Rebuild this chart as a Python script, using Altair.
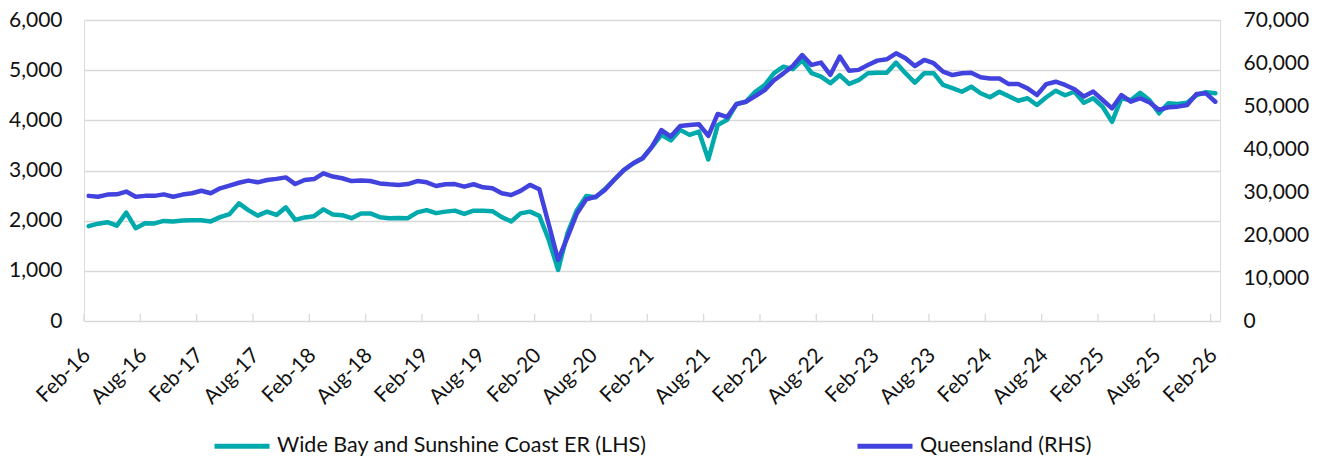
import json
import altair as alt
import pandas as pd

# ---- data (monthly, Feb-16 .. Feb-26) ----
month_labels = [d.strftime("%b-%y") for d in pd.date_range("2016-02-01", "2026-02-01", freq="MS")]

wide_bay = [
    1890, 1940, 1970, 1900, 2160, 1850, 1950, 1945, 1995, 1985,
    2005, 2010, 2010, 1985, 2070, 2130, 2345, 2210, 2100, 2180,
    2115, 2265, 2015, 2065, 2090, 2225, 2125, 2110, 2050, 2145,
    2145, 2070, 2050, 2055, 2050, 2165, 2210, 2150, 2180, 2200,
    2135, 2200, 2200, 2190, 2070, 1985, 2145, 2180, 2095, 1620,
    1020, 1750, 2210, 2490, 2465, 2630, 2820, 3010, 3140, 3245,
    3470, 3710, 3600, 3810, 3710, 3775, 3220, 3905, 4010, 4325,
    4370, 4570, 4700, 4940, 5070, 5020, 5200, 4940, 4870, 4740,
    4900, 4725, 4800, 4940, 4950, 4950, 5150, 4940, 4750, 4940,
    4940, 4705, 4640, 4570, 4670, 4540, 4460, 4570, 4480, 4390,
    4440, 4305, 4460, 4590, 4500, 4570, 4350, 4440, 4270, 3970,
    4440, 4400, 4550, 4400, 4140, 4340, 4325, 4350, 4505, 4560,
    4540,
]

queensland = [
    29100, 28900, 29400, 29450, 30100, 28900, 29100, 29100, 29450, 28900,
    29400, 29700, 30300, 29700, 30850, 31500, 32150, 32650, 32250, 32800,
    33050, 33400, 31850, 32800, 33000, 34350, 33600, 33200, 32550, 32650,
    32550, 32000, 31800, 31650, 31850, 32550, 32250, 31400, 31800, 31850,
    31250, 31800, 31100, 30850, 29700, 29300, 30250, 31650, 30650, 22500,
    14200, 19500, 25000, 28300, 28900, 30500, 32900, 35100, 36700, 37850,
    40550, 44400, 42900, 45350, 45600, 45750, 43050, 48150, 47400, 50450,
    51000, 52300, 53700, 56000, 57600, 59300, 61850, 59550, 60100, 57250,
    61500, 58200, 58400, 59550, 60550, 60850, 62250, 61100, 59300, 60700,
    59950, 58000, 57200, 57600, 57750, 56700, 56400, 56400, 55100, 55100,
    54100, 52550, 55100, 55650, 54900, 53900, 52200, 53350, 51400, 49450,
    52550, 51000, 51800, 50800, 49100, 49700, 49850, 50250, 52800, 52950,
    51000,
]

tick_labels = [
    "Feb-16", "Aug-16", "Feb-17", "Aug-17", "Feb-18", "Aug-18", "Feb-19",
    "Aug-19", "Feb-20", "Aug-20", "Feb-21", "Aug-21", "Feb-22", "Aug-22",
    "Feb-23", "Aug-23", "Feb-24", "Aug-24", "Feb-25", "Aug-25", "Feb-26",
]

series_names = ["Wide Bay and Sunshine Coast ER (LHS)", "Queensland (RHS)"]
series_colors = ["#00A9AC", "#4242DE"]

left_ticks = [0, 1000, 2000, 3000, 4000, 5000, 6000]
right_ticks = [0, 10000, 20000, 30000, 40000, 50000, 60000, 70000]

# ---- tables ----
df = pd.DataFrame({
    "idx": list(range(len(month_labels))),
    "month": month_labels,
    "wb": wide_bay,
    "qld": queensland,
    "s_wb": [series_names[0]] * len(month_labels),
    "s_qld": [series_names[1]] * len(month_labels),
})
tick_pos = [6 * k - 0.5 for k in range(len(tick_labels))]
ticks_df = pd.DataFrame({"pos": tick_pos})

FONT = "Lato"
GRID = "#d9d9d9"
TEXT = "#111111"

x_scale = alt.Scale(domain=[-0.5, len(month_labels) - 0.5], nice=False, zero=False)
label_expr = json.dumps(tick_labels) + "[round((datum.value + 0.5) / 6)]"

x_axis = alt.Axis(
    values=tick_pos, labelExpr=label_expr, labelAngle=-45, labelAlign="right",
    labelBaseline="middle", labelPadding=31, labelOffset=3, tickSize=0, ticks=False,
    domain=False, grid=False, title=None, labelFont=FONT, labelFontSize=21,
    labelColor=TEXT, labelOverlap=False, labelBound=False, labelFlush=False,
)

color_scale = alt.Scale(domain=series_names, range=series_colors)
legend = alt.Legend(
    orient="none", legendX=128, legendY=396, direction="horizontal", title=None,
    symbolType="stroke", symbolSize=3025, symbolStrokeWidth=5, labelFont=FONT,
    labelFontSize=21.5, labelColor=TEXT, labelLimit=600, labelOffset=5,
    columnPadding=200, padding=0,
)

base = alt.Chart(df)

tick_rules = alt.Chart(ticks_df).mark_rule(color=GRID, strokeWidth=1.3).encode(
    x=alt.X("pos:Q", scale=x_scale, axis=x_axis),
    y=alt.value(301),
    y2=alt.value(294),
)

wb_line = base.mark_line(strokeWidth=4.5, strokeJoin="round", strokeCap="round").encode(
    x=alt.X("idx:Q", scale=x_scale, axis=x_axis),
    y=alt.Y("wb:Q", scale=alt.Scale(domain=[0, 6000], nice=False), axis=alt.Axis(
        values=left_ticks, format=",.0f", orient="left", title=None, domain=False, ticks=False,
        grid=True, gridColor=GRID, gridWidth=1.3, labelPadding=22, labelFont=FONT,
        labelFontSize=21, labelColor=TEXT)),
    color=alt.Color("s_wb:N", scale=color_scale, legend=legend),
)

qld_line = base.mark_line(strokeWidth=4.5, strokeJoin="round", strokeCap="round").encode(
    x=alt.X("idx:Q", scale=x_scale, axis=x_axis),
    y=alt.Y("qld:Q", scale=alt.Scale(domain=[0, 70000], nice=False), axis=alt.Axis(
        values=right_ticks, format=",.0f", orient="right", title=None, domain=False, ticks=False,
        grid=False, labelPadding=23, labelFont=FONT, labelFontSize=21, labelColor=TEXT)),
    color=alt.Color("s_qld:N", scale=color_scale, legend=legend),
)

chart = alt.layer(tick_rules, wb_line, qld_line).resolve_scale(
    y="independent"
).properties(
    width=1136, height=301,
    padding={"left": 76, "top": 12, "right": 95, "bottom": 145},
    autosize=alt.AutoSizeParams(type="none"),
).configure_view(stroke=None).configure(background="white")

chart.save("out.html", embed_options={"renderer": "svg", "actions": False})
